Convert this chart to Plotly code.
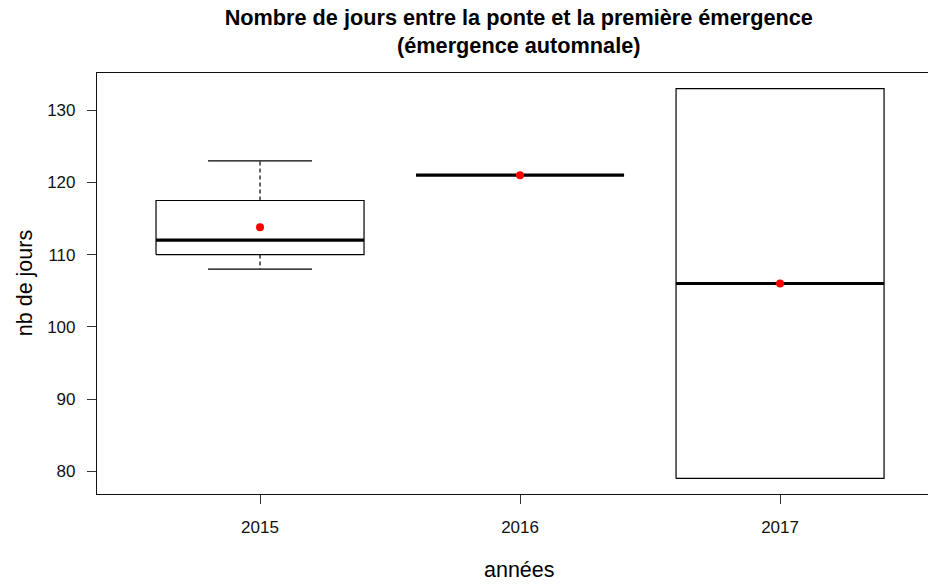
"""
Boxplot : nombre de jours entre la ponte et la première émergence
(style R base graphics)
"""

import plotly.graph_objects as go

# ============================================
# Données
# ============================================

years = ["2015", "2016", "2017"]
lower_whisker = [108, 121, 79]
q1 = [110, 121, 79]
medians = [112, 121, 106]
q3 = [117.5, 121, 133]
upper_whisker = [123, 121, 133]
means = [113.8, 121, 106]

y_ticks = [80, 90, 100, 110, 120, 130]

FONT = "Liberation Sans, Arial, sans-serif"
BOX_HALF = 0.4
CAP_HALF = 0.2

fig = go.Figure()

for i, yr in enumerate(years):
    pos = i + 1
    # boîte
    fig.add_trace(go.Scatter(
        x=[pos - BOX_HALF, pos + BOX_HALF, pos + BOX_HALF, pos - BOX_HALF, pos - BOX_HALF],
        y=[q1[i], q1[i], q3[i], q3[i], q1[i]],
        mode="lines", line=dict(color="black", width=1.2),
        hoverinfo="skip", showlegend=False,
    ))
    # moustaches (pointillés)
    if upper_whisker[i] > q3[i]:
        fig.add_trace(go.Scatter(
            x=[pos, pos], y=[q3[i], upper_whisker[i]],
            mode="lines", line=dict(color="black", width=1.2, dash="4px,3px"),
            hoverinfo="skip", showlegend=False,
        ))
        fig.add_trace(go.Scatter(
            x=[pos - CAP_HALF, pos + CAP_HALF], y=[upper_whisker[i], upper_whisker[i]],
            mode="lines", line=dict(color="black", width=1.2),
            hoverinfo="skip", showlegend=False,
        ))
    if lower_whisker[i] < q1[i]:
        fig.add_trace(go.Scatter(
            x=[pos, pos], y=[q1[i], lower_whisker[i]],
            mode="lines", line=dict(color="black", width=1.2, dash="4px,3px"),
            hoverinfo="skip", showlegend=False,
        ))
        fig.add_trace(go.Scatter(
            x=[pos - CAP_HALF, pos + CAP_HALF], y=[lower_whisker[i], lower_whisker[i]],
            mode="lines", line=dict(color="black", width=1.2),
            hoverinfo="skip", showlegend=False,
        ))
    # médiane
    fig.add_trace(go.Scatter(
        x=[pos - BOX_HALF, pos + BOX_HALF], y=[medians[i], medians[i]],
        mode="lines", line=dict(color="black", width=3.2),
        hoverinfo="skip", showlegend=False,
    ))

# moyennes
fig.add_trace(go.Scatter(
    x=[1, 2, 3], y=means, mode="markers",
    marker=dict(color="red", size=8),
    showlegend=False,
))

fig.update_layout(
    width=928, height=584,
    paper_bgcolor="white", plot_bgcolor="white",
    margin=dict(l=97, r=0, t=73, b=90),
    font=dict(family=FONT, color="#111", size=17),
    title=dict(
        text="<b>Nombre de jours entre la ponte et la première émergence<br>(émergence automnale)</b>",
        x=0.559, xanchor="center", xref="container",
        y=0.957, yanchor="middle",
        font=dict(size=21.7, color="#000"),
    ),
    annotations=[
        dict(text="années", x=0.508, xref="paper", y=-0.18, yref="paper",
             xanchor="center", yanchor="middle", showarrow=False,
             font=dict(size=21.5, color="#000")),
        dict(text="nb de jours", x=-0.087, xref="paper", y=0.5, yref="paper",
             xanchor="center", yanchor="middle",
             showarrow=False, textangle=-90, font=dict(size=21.5, color="#000")),
    ],
)

fig.update_xaxes(
    range=[0.373, 3.569],
    tickmode="array", tickvals=[1, 2, 3], ticktext=years,
    ticks="outside", ticklen=9, tickcolor="#333", tickwidth=1,
    showline=True, linecolor="#111", linewidth=1.2, mirror=True,
    showgrid=False, zeroline=False,
    tickfont=dict(size=17), ticklabelstandoff=8,
)
fig.update_yaxes(
    range=[76.84, 135.16],
    tickmode="array", tickvals=y_ticks,
    ticks="outside", ticklen=9, tickcolor="#333", tickwidth=1,
    showline=True, linecolor="#111", linewidth=1.2, mirror=False,
    showgrid=False, zeroline=False,
    tickfont=dict(size=17), ticklabelstandoff=8,
)

fig.write_html(
    "out.html",
    config={"displayModeBar": False},
    post_script="document.body.style.margin='0';",
)
